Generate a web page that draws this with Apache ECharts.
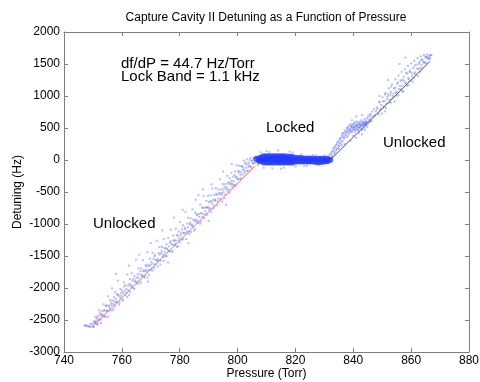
<!DOCTYPE html>
<html>
<head>
<meta charset="UTF-8">
<title></title>
<style>
	*{padding:0;margin:0;}
	body{background:#fff;}
	#chart{width:480px;height:382px;}
</style>
</head>
<body>
<div id="chart"></div>
<script src="https://cdn.jsdelivr.net/npm/echarts@6/dist/echarts.min.js"></script>
<script>
// tick values
var xTicks = [740, 760, 780, 800, 820, 840, 860, 880];
var yTicks = [-3000, -2500, -2000, -1500, -1000, -500, 0, 500, 1000, 1500, 2000];

// unlocked points, below the lock band (outer spread)
var lowerPoints = [
	[747.1,-2580],[747.4,-2590],[747.8,-2590],[748.2,-2590],[748.6,-2600],[748.9,-2610],[749.2,-2560],[749.5,-2600],
	[749.8,-2560],[750.1,-2605],[750.3,-2520],[750.6,-2550],[750.8,-2450],[751.1,-2510],[751.4,-2570],[751.6,-2440],
	[751.9,-2505],[752.2,-2350],[752.5,-2430],[752.8,-2495],[753.1,-2360],[753.3,-2420],[753.7,-2255],[754.0,-2350],
	[754.3,-2450],[754.6,-2275],[754.9,-2360],[755.2,-2130],[755.4,-2270],[755.7,-2355],[756.0,-2190],[756.3,-2270],
	[756.6,-2005],[756.8,-2195],[757.1,-2330],[757.4,-2210],[757.7,-2065],[758.0,-2220],[758.3,-2100],[758.6,-1886],
	[758.9,-2120],[759.2,-2220],[759.5,-2015],[759.8,-2120],
	[760.1,-2040],[760.4,-2195],[760.7,-1910],[761.0,-2050],[761.3,-1955],[761.6,-2080],[761.9,-1790],[762.2,-1965],
	[762.5,-2110],[762.8,-1860],[763.1,-1975],[763.4,-1770],[763.7,-1890],[764.0,-2005],[764.3,-1810],[764.6,-1885],
	[764.9,-1555],[765.2,-1910],[765.5,-1785],[765.8,-1695],[766.1,-1930],[766.4,-1785],[766.7,-1695],[767.0,-1810],
	[767.3,-1565],[767.6,-1725],[767.9,-1820],[768.2,-1645],[768.5,-1725],[768.8,-1440],[769.1,-1635],[769.4,-1795],
	[769.7,-1540],[770.0,-1635],[770.3,-1695],[770.6,-1450],[770.9,-1545],[771.2,-1690],[771.5,-1480],[771.8,-1565],
	[772.1,-1260],[772.4,-1580],[772.7,-1455],[773.0,-1360],[773.3,-1630],[773.6,-1455],[773.9,-1360],[774.2,-1480],
	[774.5,-1235],[774.8,-1380],[775.1,-1510],[775.4,-1315],[775.7,-1390],[776.0,-1220],[776.3,-1425],[776.6,-1290],
	[776.9,-1090],[777.2,-1315],[777.5,-1420],[777.8,-1180],[778.1,-1255],[778.4,-1310],[778.7,-1075],[779.0,-1175],
	[779.3,-1350],[779.6,-1115],[779.9,-1215],[780.2,-970],[780.5,-1135],[780.8,-1245],[781.1,-1020],[781.4,-1135],
	[781.7,-1055],[782.0,-810],[782.3,-1145],[782.6,-995],[782.9,-900],[783.2,-1155],[783.5,-1005],[783.8,-910],
	[784.1,-1025],[784.4,-770],[784.7,-930],[785.0,-1105],[785.3,-820],[785.6,-930],[785.9,-845],[786.2,-950],
	[786.5,-550],[786.8,-845],[787.1,-700],[787.4,-960],[787.7,-745],[788.0,-840],[788.3,-560],[788.6,-745],
	[788.9,-850],[789.2,-640],[789.5,-745],[789.8,-560],
	[790.1,-660],[790.4,-755],[790.7,-550],[791.0,-645],[791.3,-445],[791.6,-760],[791.9,-545],[792.2,-635],
	[792.5,-440],[792.8,-545],[793.1,-645],[793.4,-460],[793.7,-535],[794.0,-300],[794.3,-460],[794.6,-545],
	[794.9,-375],[795.2,-460],[795.5,-595],[795.8,-375],[796.1,-450],[796.4,-245],[796.7,-370],[797.0,-460],
	[797.3,-285],[797.6,-360],[797.9,-200],[798.2,-375],[798.5,-260],[798.8,-390],[799.1,-175],[799.4,-270],
	[799.7,-80],[800.0,-305],[800.3,-170],[800.6,-90],[800.9,-225],[801.2,-290],[801.5,-100],[801.8,-155],
	[802.1,-10],[802.4,-200],[802.7,-65],[803.0,-120],[803.3,10],[803.6,-165],[803.9,-40],[804.2,-90],
	[804.5,35],[804.8,-120],[805.1,-5],[805.4,-55],[805.7,30],[806.0,-45],
	[758.0,-1780],[762.5,-1650],[766.0,-1480],[770.0,-1300],[774.0,-1100],[778.0,-900],[781.0,-780],[785.5,-620],
	[788.0,-460],[791.0,-380],[795.0,-180],[798.0,-60],[769.0,-1900],[776.0,-1600],[783.0,-1300],[790.0,-950],[796.0,-700]
];

// unlocked points, below the lock band (close to the fit)
var lowerCore = [
	[750.25,-2609],[750.65,-2531],[751.0,-2545],[751.35,-2470],[751.7,-2564],[752.05,-2488],[752.4,-2393],[752.75,-2547],
	[753.1,-2411],[753.45,-2446],[753.8,-2350],[754.15,-2444],[754.5,-2279],[754.85,-2353],[755.2,-2448],[755.55,-2292],
	[755.9,-2326],[756.25,-2231],[756.6,-2355],[756.95,-2249],[757.3,-2144],[757.65,-2278],[758.0,-2172],[758.35,-2227],
	[758.7,-2101],[759.05,-2255],[759.4,-2150],[759.75,-2074],[760.1,-2179],[760.45,-2083],[760.8,-1977],[761.15,-2112],
	[761.5,-2016],[761.85,-2140],[762.2,-2035],[762.55,-1939],[762.9,-2063],[763.25,-1948],[763.6,-1982],[763.95,-1857],
	[764.3,-2011],[764.65,-1905],[765.0,-1840],[765.35,-1934],[765.7,-1838],[766.05,-1883],[766.4,-1737],[766.75,-1911],
	[767.1,-1806],[767.45,-1740],[767.8,-1834],[768.15,-1739],[768.5,-1663],[768.85,-1837],[769.2,-1722],[769.55,-1656],
	[769.9,-1720],[770.25,-1595],[770.6,-1729],[770.95,-1623],[771.3,-1508],[771.65,-1632],[772.0,-1557],[772.35,-1661],
	[772.7,-1555],[773.05,-1480],[773.4,-1574],[773.75,-1418],[774.1,-1513],[774.45,-1577],[774.8,-1442],[775.15,-1376],
	[775.5,-1500],[775.85,-1415],[776.2,-1349],[776.55,-1423],[776.9,-1268],[777.25,-1442],[777.6,-1326],[777.95,-1261],
	[778.3,-1335],[778.65,-1259],[779.0,-1354],[779.35,-1178],[779.7,-1252],[780.05,-1287],[780.4,-1171],[780.75,-1085],
	[781.1,-1230],[781.45,-1144],[781.8,-1079],[782.15,-1233],[782.5,-1117],[782.85,-1052],[783.2,-1116],[783.55,-980],
	[783.9,-1125],[784.25,-1009],[784.6,-1043],[784.95,-948],[785.3,-1082],[785.65,-966],[786.0,-861],[786.35,-985],
	[786.7,-889],[787.05,-993],[787.4,-828],[787.75,-892],[788.1,-747],[788.45,-911],[788.8,-805],[789.15,-740],
	[789.5,-854],[789.85,-738],[790.2,-773],[790.55,-647],[790.9,-812],[791.25,-686],[791.6,-621],[791.95,-725],
	[792.3,-619],[792.65,-524],[793.0,-708],[793.35,-602],[793.7,-517],[794.05,-611],[794.4,-515],[794.75,-650],
	[795.1,-504],[795.45,-418],[795.8,-543],[796.15,-427],[796.5,-481],[796.85,-346],[797.2,-510],[797.55,-384],
	[797.9,-329],[798.25,-413],[798.6,-327],[798.95,-232],[799.3,-396],[799.65,-260],[800.0,-295],[800.35,-189],
	[800.7,-294],[801.05,-188],[801.4,-92],[801.75,-227],[802.1,-121],[802.45,-165],[802.8,-40],[803.15,-174],
	[803.5,-69],[803.85,-103],[804.2,3],[804.55,-102],[804.9,-16],[805.25,-50],[805.6,35]
];

// fuzzy edge of the lock band
var lockedEdge = [
	[806.5,60],[807,-80],[808,120],[809,-120],[810,140],[812,-130],[814,150],[816,-120],[818,130],[820,-100],
	[822,90],[824,-90],[826,80],[828,-80],[830,70],[807.5,20],[806.8,-30],[811,125],[815,-135],[819,115],[823,-95],[827,75]
];

// dense lock band
var lockedCore = [
	[806.5,15],[807.5,15],[807.5,-15],[808,40],[808,-10],
	[809,60],[809,10],[809,-40],[810,60],[810,10],[810,-40],[811,60],[811,10],[811,-40],
	[812,60],[812,10],[812,-40],[813,60],[813,10],[813,-40],[814,60],[814,10],[814,-40],
	[815,60],[815,10],[815,-40],[816,60],[816,10],[816,-40],[817,55],[817,10],[817,-40],
	[818,50],[818,5],[818,-40],[819,45],[819,0],[819,-40],
	[820,30],[820,-25],[821,30],[821,-25],[822,30],[822,-25],[823,25],[823,-25],[824,25],[824,-25],
	[825,25],[825,-25],[826,20],[826,-25],[827,20],[827,-30],[828,20],[828,-30],[829,20],[829,-30],
	[830,20],[830,-25],[831,10],[831,-20],[832,0]
];

// unlocked points, above the lock band
var upperPoints = [
	[830.4,40],[830.8,-10],[831.1,60],[831.5,20],[831.9,90],[832.2,30],[832.5,130],[832.8,70],[833.1,170],[833.4,100],
	[833.7,210],[834.0,150],[834.3,250],[834.6,180],[834.9,300],[835.2,220],[835.5,340],[835.8,260],[836.1,390],[836.4,300],
	[836.7,420],[837.0,340],[837.3,470],[837.6,380],[837.9,440],[838.2,520],[838.5,400],[838.8,480],[839.1,560],[839.4,430],
	[839.7,510],[840.0,470],[840.3,580],[840.6,440],[840.9,530],[841.2,490],[841.5,600],[841.8,460],[842.1,550],[842.4,510],
	[842.7,620],[843.0,480],[843.3,570],[843.6,530],[843.9,640],[844.2,560],[844.5,600],[844.8,520],[845.1,680],[845.4,590],
	[845.7,640],[846.0,720],[846.3,610],[846.6,760],[846.9,680],[847.2,800],[847.5,700],[847.8,760],
	[838,360],[839,300],[840,380],[841,350],[842,420],[843,400],[844,470],[836,230],[835,180],[837,250],
	[839.5,620],[841,680],[843,700],
	[830.6,10],[831.0,-20],[831.3,40],[831.7,60],[832.0,20],[832.4,100],[832.7,50],[833.0,140],[833.3,190],[833.6,120],
	[833.9,230],[834.2,170],[834.5,280],[834.8,220],[835.1,260],[835.4,330],[835.7,290],[836.0,360],[836.3,420],[836.6,350],
	[836.9,380],[837.2,440],[837.5,410],[837.8,500],[838.1,460],[838.4,430],[838.7,540],[839.0,470],[839.3,510],[839.6,450],
	[839.9,560],[840.2,520],[840.5,490],[840.8,600],[841.1,540],[841.4,470],[841.7,570],[842.0,500],[842.3,590],[842.6,540],
	[842.9,470],[843.2,600],[843.5,560],[843.8,500],[844.1,600],[844.4,540],[844.7,650],[845.0,560],[845.3,620],[845.6,700],
	[845.9,600],[846.2,680],
	[838.3,490],[838.9,450],[839.2,530],[839.8,490],[840.1,540],[840.4,510],[840.7,470],[841.0,560],[841.3,520],[841.6,540],
	[841.9,510],[842.2,570],[842.5,530],[842.8,560],[843.1,540],[843.4,590],[843.7,550],[844.0,580],[844.3,570],[844.6,590],
	[848.2,820],[848.6,730],[849.0,900],[849.3,780],[849.7,860],[850.1,980],[850.4,820],[850.8,920],[851.2,1050],[851.5,880],
	[851.9,990],[852.3,1120],[852.6,940],[853.0,1060],[853.4,1180],[853.7,1000],[854.1,1120],[854.5,1260],[854.8,1050],[855.2,1190],
	[855.6,1320],[855.9,1110],[856.3,1240],[856.7,1380],[857.0,1160],[857.4,1300],[857.8,1420],[858.1,1210],[858.5,1350],[858.9,1470],
	[859.2,1260],[859.6,1400],[860.0,1510],[860.3,1310],[860.7,1440],[861.1,1550],[861.4,1370],[861.8,1490],[862.2,1590],[862.5,1420],
	[862.9,1530],[863.3,1620],[863.6,1480],[864.0,1570],[864.4,1640],[864.7,1530],[865.1,1600],[865.5,1650],[865.8,1580],[866.2,1630],
	[866.6,1600],[867.0,1640],
	[851,760],[853,900],[855,1000],[857,1080],[859,1170],[861,1280],[863,1380],[849,1000],[852,1250],[856,1500],[858,1600],
	[848.35,791],[848.75,709],[849.1,914],[849.5,802],[849.85,728],[850.25,916],[850.6,841],[850.95,1027],[851.3,813],[851.7,951],
	[852.05,1026],[852.45,894],[852.8,1020],[853.15,1145],[853.5,961],[853.9,1039],[854.25,915],[854.6,1130],[855.0,1058],[855.35,1214],
	[855.7,1019],[856.1,1157],[856.45,1103],[856.8,1249],[857.2,1066],[857.55,1242],[857.9,1198],[858.3,1366],[858.65,1161],[859.0,1277],
	[859.4,1375],[859.75,1240],[860.1,1366],[860.5,1224],[860.85,1350],[861.2,1475],[861.6,1343],[861.95,1429],[862.3,1314],[862.7,1502],
	[863.05,1438],[863.4,1564],[863.8,1431],[864.15,1537],[864.5,1513],[864.9,1611],[865.25,1516],[865.6,1612],[866.0,1590],[866.35,1575],
	[866.7,1641]
];

// fitted lines
var fitLow = [[750,-2600],[806,-95]];
var fitHigh = [[832,0],[866.5,1540]];

var font = "'Liberation Sans', Arial, sans-serif";
var axisGray = "#7f7f7f";

function axisX(pos, labels){
	return {
		type:"value", position:pos, min:xTicks[0], max:xTicks[xTicks.length-1], interval:20,
		axisLine:{show:true, onZero:false, lineStyle:{color:axisGray, width:1}},
		axisTick:{show:true, inside:true, length:4, lineStyle:{color:axisGray}},
		axisLabel:{show:labels, color:"#000", fontSize:12, fontFamily:font, margin:3,
			formatter:function(v){ return String(v); }},
		splitLine:{show:false},
		name: labels ? "Pressure (Torr)" : "",
		nameLocation:"middle", nameGap:16, nameMoveOverlap:false,
		nameTextStyle:{color:"#000", fontSize:12, fontFamily:font}
	};
}
function axisY(pos, labels){
	return {
		type:"value", position:pos, min:yTicks[0], max:yTicks[yTicks.length-1], interval:500,
		axisLine:{show:true, onZero:false, lineStyle:{color:axisGray, width:1}},
		axisTick:{show:true, inside:true, length:4, lineStyle:{color:axisGray}},
		axisLabel:{show:labels, color:"#000", fontSize:12, fontFamily:font, margin:4,
			formatter:function(v){ return String(v); }},
		splitLine:{show:false},
		name: labels ? "Detuning (Hz)" : "",
		nameLocation:"middle", nameGap:40, nameMoveOverlap:false,
		nameTextStyle:{color:"#000", fontSize:12, fontFamily:font}
	};
}

function label(x, y, text, size, align){
	return {type:"text", x:x, y:y, style:{text:text, fill:"#000", font:size + "px " + font,
		textAlign:align, textVerticalAlign:"middle"}};
}

var chart = echarts.init(document.getElementById("chart"));
chart.setOption({
	animation:false,
	backgroundColor:"#fff",
	grid:{left:64, right:11, top:32, bottom:30, outerBoundsMode:"none", containLabel:false},
	xAxis:[axisX("bottom", true), axisX("top", false)],
	yAxis:[axisY("left", true), axisY("right", false)],
	graphic:[
		label(266, 18, "Capture Cavity II Detuning as a Function of Pressure", 12, "center"),
		label(121, 64, "df/dP = 44.7 Hz/Torr", 15, "left"),
		label(121, 77, "Lock Band = 1.1 kHz", 15, "left"),
		label(266, 128, "Locked", 15, "left"),
		label(383, 143, "Unlocked", 15, "left"),
		label(93, 224, "Unlocked", 15, "left")
	],
	series:[
		{
			type:"scatter", data:lowerPoints.concat(lowerCore, upperPoints, lockedEdge),
			symbol:"rect", symbolSize:2, silent:true,
			itemStyle:{color:"rgba(40,60,255,0.42)"}
		},
		{
			type:"line", data:fitLow, showSymbol:false, symbol:"none",
			lineStyle:{color:"#ff6a6a", width:1}, z:3
		},
		{
			type:"line", data:fitHigh, showSymbol:false, symbol:"none",
			lineStyle:{color:"#555", width:1}, z:3
		},
		{
			type:"scatter", data:lockedCore, symbolSize:6, silent:true,
			itemStyle:{color:"#2238ff"}, z:4
		}
	]
});
</script>
</body>
</html>
